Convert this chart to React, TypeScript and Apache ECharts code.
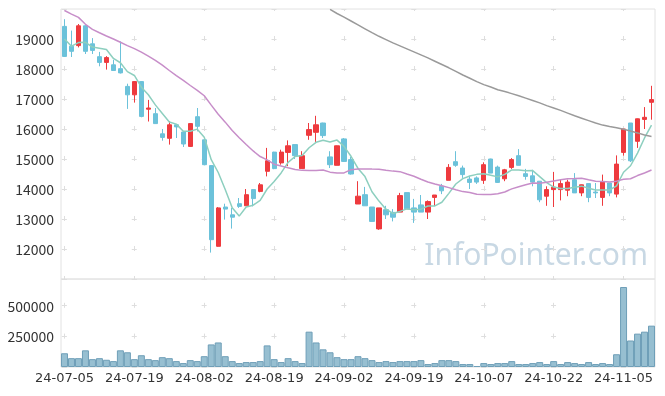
import React, { useEffect, useRef } from 'react';
import * as echarts from 'echarts';

const dates = [
  '24-07-05', '24-07-08', '24-07-09', '24-07-10', '24-07-11', '24-07-12', '24-07-15', '24-07-16', '24-07-17', '24-07-18',
  '24-07-19', '24-07-22', '24-07-23', '24-07-24', '24-07-25', '24-07-26', '24-07-29', '24-07-30', '24-07-31', '24-08-01',
  '24-08-02', '24-08-05', '24-08-06', '24-08-07', '24-08-08', '24-08-09', '24-08-12', '24-08-13', '24-08-14', '24-08-16',
  '24-08-19', '24-08-20', '24-08-21', '24-08-22', '24-08-23', '24-08-26', '24-08-27', '24-08-28', '24-08-29', '24-08-30',
  '24-09-02', '24-09-03', '24-09-04', '24-09-05', '24-09-06', '24-09-09', '24-09-10', '24-09-11', '24-09-12', '24-09-13',
  '24-09-19', '24-09-20', '24-09-23', '24-09-24', '24-09-25', '24-09-26', '24-09-27', '24-09-30', '24-10-02', '24-10-04',
  '24-10-07', '24-10-08', '24-10-10', '24-10-11', '24-10-14', '24-10-15', '24-10-16', '24-10-17', '24-10-18', '24-10-21',
  '24-10-22', '24-10-23', '24-10-24', '24-10-25', '24-10-28', '24-10-29', '24-10-30', '24-10-31', '24-11-01', '24-11-04',
  '24-11-05', '24-11-06', '24-11-07', '24-11-08', '24-11-11',
];

const opens = [
  19420, 18760, 18780, 19440, 18840, 18410, 18220, 18140, 18010, 17420,
  17140, 17580, 16660, 16510, 15840, 15690, 16140, 15900, 15420, 16410,
  15640, 14780, 12090, 13400, 13140, 13510, 13440, 13980, 13920, 14590,
  15230, 14870, 15220, 15480, 14680, 15790, 15890, 16200, 15070, 14790,
  15670, 14980, 13500, 13810, 13400, 12670, 13310, 13220, 13230, 13880,
  13370, 13470, 13230, 13720, 14090, 14290, 14910, 14700, 14330, 14370,
  14290, 15000, 14730, 14340, 14720, 15110, 14510, 14440, 14260, 13760,
  13980, 13980, 13960, 14310, 13870, 14180, 13900, 13720, 14200, 13830,
  15220, 16200, 15590, 16320, 16890,
];

const closes = [
  18420, 18590, 19440, 18590, 18620, 18220, 18380, 17950, 17870, 17140,
  17580, 16420, 16700, 16180, 15720, 16140, 16070, 15500, 16180, 16090,
  14810, 12310, 13370, 13330, 13060, 13420, 13810, 13680, 14140, 14940,
  14680, 15230, 15440, 15110, 15110, 15980, 16140, 15780, 14810, 15440,
  14920, 14500, 13760, 13440, 12920, 13370, 13140, 13060, 13780, 13340,
  13230, 13230, 13580, 13800, 13940, 14720, 14790, 14480, 14220, 14230,
  14810, 14530, 14220, 14640, 14980, 14790, 14420, 14230, 13640, 13980,
  14060, 14180, 14230, 13870, 14140, 13720, 13870, 14230, 13870, 14830,
  16000, 14940, 16340, 16390, 16980,
];

const lows = [
  18400, 18400, 18720, 18500, 18500, 18090, 17980, 17940, 17850, 16670,
  16880, 16390, 16250, 16170, 15610, 15480, 15700, 15400, 15400, 15920,
  14790, 11880, 12080, 12980, 12680, 13370, 13440, 13420, 13890, 14420,
  14660, 14810, 14760, 15000, 14680, 15640, 15570, 15700, 14700, 14790,
  14900, 14480, 13500, 13440, 12910, 12640, 13000, 12920, 13230, 13340,
  12870, 13230, 13000, 13440, 13830, 14290, 14740, 14370, 14000, 14170,
  14170, 14530, 14200, 14260, 14670, 14790, 14310, 14090, 13560, 13440,
  13400, 13620, 13760, 13870, 13760, 13560, 13700, 13440, 13760, 13720,
  15110, 14900, 15370, 16000, 16310,
];

const highs = [
  19660, 19280, 19500, 19460, 19030, 18570, 18430, 18310, 18920, 17510,
  17590, 17600, 16970, 16700, 16000, 16260, 16160, 15910, 16190, 16700,
  15650, 14790, 13400, 13510, 13370, 13700, 14000, 13990, 14200, 15370,
  15240, 15310, 15620, 15480, 15260, 16200, 16440, 16210, 15260, 15450,
  15700, 15070, 14260, 14070, 13400, 13370, 13440, 13330, 13870, 13880,
  13670, 13800, 13620, 13800, 14170, 14830, 15260, 14780, 14440, 14420,
  14890, 15010, 14780, 14670, 15030, 15330, 14670, 14640, 14260, 14090,
  14570, 14310, 14310, 14530, 14150, 14180, 14200, 14480, 14200, 15120,
  16000, 16200, 16350, 16730, 17440,
];

const volumes = [
  112000, 72000, 72000, 136000, 64000, 72000, 59000, 48000, 136000, 120000,
  64000, 96000, 64000, 56000, 80000, 72000, 48000, 32000, 56000, 48000,
  88000, 184000, 200000, 88000, 48000, 32000, 40000, 40000, 48000, 176000,
  64000, 40000, 72000, 48000, 32000, 288000, 200000, 144000, 120000, 80000,
  64000, 64000, 88000, 72000, 56000, 40000, 48000, 40000, 48000, 48000,
  48000, 56000, 24000, 32000, 56000, 56000, 48000, 24000, 24000, 8000,
  32000, 24000, 32000, 32000, 48000, 24000, 24000, 32000, 40000, 24000,
  48000, 24000, 40000, 32000, 24000, 40000, 24000, 32000, 24000, 104000,
  652000, 216000, 272000, 288000, 337000,
];

const ma5 = [
  19000, 18760, 18880, 18890, 18732, 18692, 18650, 18352, 18208, 17912,
  17784, 17392, 17142, 16804, 16519, 16233, 16162, 15922, 15922, 15995,
  15728, 14977, 14550, 13982, 13375, 13097, 13398, 13460, 13622, 14000,
  14251, 14535, 14888, 15082, 15115, 15375, 15557, 15624, 15564, 15631,
  15420, 15091, 14686, 14413, 13908, 13597, 13326, 13186, 13253, 13337,
  13311, 13328, 13433, 13437, 13557, 13855, 14166, 14346, 14431, 14488,
  14506, 14455, 14404, 14488, 14637, 14633, 14611, 14613, 14413, 14213,
  14066, 14017, 14017, 14062, 14095, 14028, 13966, 13966, 13966, 14104,
  14559, 14775, 15197, 15701, 16130,
];

const ma20 = [
  19950, 19830, 19720, 19489, 19322, 19210, 19100, 19000, 18890, 18780,
  18680, 18560, 18430, 18290, 18130, 17950, 17780, 17620, 17450, 17290,
  17109, 16795, 16491, 16229, 15950, 15710, 15482, 15268, 15082, 14972,
  14827, 14768, 14705, 14652, 14621, 14613, 14617, 14631, 14562, 14530,
  14536, 14645, 14665, 14670, 14663, 14661, 14627, 14596, 14578, 14498,
  14426, 14326, 14232, 14167, 14108, 14046, 13978, 13913, 13883, 13823,
  13817, 13819, 13842, 13902, 14005, 14076, 14140, 14199, 14192, 14224,
  14265, 14312, 14345, 14348, 14358, 14308, 14262, 14250, 14232, 14262,
  14322, 14342, 14448, 14535, 14635,
];

const ma120 = [
  null, null, null, null, null, null, null, null, null, null,
  null, null, null, null, null, null, null, null, null, null,
  null, null, null, null, null, null, null, null, null, null,
  null, null, null, null, null, null, null, null, 19990, 19850,
  19730, 19600, 19470, 19340, 19210, 19090, 18980, 18870, 18770, 18670,
  18570, 18470, 18370, 18260, 18150, 18040, 17920, 17800, 17690, 17580,
  17480, 17400, 17310, 17250, 17180, 17110, 17030, 16950, 16870, 16780,
  16700, 16620, 16530, 16440, 16360, 16280, 16200, 16130, 16080, 16040,
  15990, 15930, 15870, 15800, 15750,
];

const UP = '#ee3a3e';
const DOWN = '#6cc2da';
const GRIDC = '#e2e2e2';
const CROSS = '#dedede';

export default function App() {
  const ref = useRef<HTMLDivElement>(null);
  useEffect(() => {
    const chart = echarts.init(ref.current!, null, { renderer: 'svg' });
    const candles = dates.map((_, i) => [opens[i], closes[i], lows[i], highs[i]]);
    const yFont = 'Noto Sans CJK KR';
    chart.setOption({
      animation: false,
      textStyle: { fontFamily: yFont },
      grid: [
        { left: 61, right: 10, top: 9, height: 270, show: true, borderColor: GRIDC, borderWidth: 1 },
        { left: 61, right: 10, top: 279, height: 88, show: true, borderColor: GRIDC, borderWidth: 1 },
      ],
      xAxis: [
        {
          type: 'category', gridIndex: 0, data: dates, boundaryGap: true,
          axisLine: { show: false }, axisTick: { show: false }, axisLabel: { show: false },
          splitLine: { show: true, interval: 9, alignWithLabel: true, lineStyle: { color: CROSS, width: 1, type: [5, 25], dashOffset: 2.5 } },
        },
        {
          type: 'category', gridIndex: 1, data: dates, boundaryGap: true,
          axisLine: { show: false }, axisTick: { show: false },
          axisLabel: { interval: 9, color: '#333', fontSize: 13, fontFamily: 'DejaVu Sans', margin: 4 },
          splitLine: { show: true, interval: 9, alignWithLabel: true, lineStyle: { color: CROSS, width: 1, type: [5, 25.8], dashOffset: 6.5 } },
        },
      ],
      yAxis: [
        {
          type: 'value', gridIndex: 0, min: 11000, max: 20000, interval: 1000,
          axisLine: { show: false }, axisTick: { show: false },
          axisLabel: { color: '#333', fontSize: 14, margin: 7, showMinLabel: false, showMaxLabel: false, formatter: (v: number) => String(v) },
          splitLine: { show: true, lineStyle: { color: CROSS, width: 1, type: [5, 64.88], dashOffset: 69 } },
        },
        {
          type: 'value', gridIndex: 1, min: 0, max: (v: any) => v.max * 1.1, interval: 250000,
          axisLine: { show: false }, axisTick: { show: false },
          axisLabel: { color: '#333', fontSize: 14, margin: 7, showMinLabel: false, showMaxLabel: false, formatter: (v: number) => String(v) },
          splitLine: { show: true, lineStyle: { color: CROSS, width: 1, type: [5, 64.88], dashOffset: 69 } },
        },
      ],
      graphic: [
        {
          type: 'text', right: 17, top: 238, z: 0,
          style: { text: 'InfoPointer.com', fontSize: 30, fill: '#c8d8e4', fontFamily: 'Noto Sans' },
        },
      ],
      series: [
        {
          type: 'candlestick', xAxisIndex: 0, yAxisIndex: 0, data: candles, barWidth: '68%',
          itemStyle: { color: UP, color0: DOWN, borderColor: UP, borderColor0: DOWN, borderWidth: 1 },
        },
        {
          type: 'line', xAxisIndex: 0, yAxisIndex: 0, data: ma5, showSymbol: false, symbol: 'none',
          lineStyle: { color: '#8dcfbf', width: 1.5 }, itemStyle: { color: '#8dcfbf' },
        },
        {
          type: 'line', xAxisIndex: 0, yAxisIndex: 0, data: ma20, showSymbol: false, symbol: 'none',
          lineStyle: { color: '#c78ec9', width: 1.5 }, itemStyle: { color: '#c78ec9' },
        },
        {
          type: 'line', xAxisIndex: 0, yAxisIndex: 0, data: ma120, showSymbol: false, symbol: 'none',
          lineStyle: { color: '#9a9a9a', width: 1.5 }, itemStyle: { color: '#9a9a9a' },
        },
        {
          type: 'bar', xAxisIndex: 1, yAxisIndex: 1, data: volumes, barWidth: '100%',
          itemStyle: { color: '#97bfd1', borderColor: '#6f9fb8', borderWidth: 1 },
        },
      ],
    });
    return () => chart.dispose();
  }, []);
  return <div ref={ref} style={{ position: 'fixed', left: 0, top: 0, width: 665, height: 396 }} />;
}
